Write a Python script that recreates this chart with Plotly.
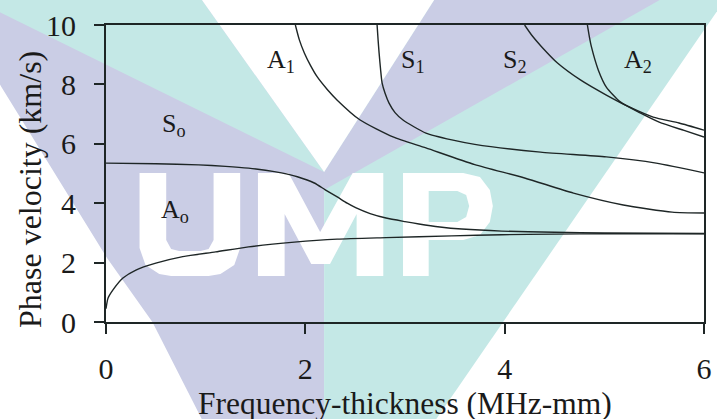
import plotly.graph_objects as go

# ---------------- data ----------------
a0_f = [0, 0.02, 0.07, 0.17, 0.3, 0.5, 0.77, 1.1, 1.43, 1.89, 2.32, 2.81, 3.47, 3.97, 4.5, 5.0, 5.5, 6.0]
a0_v = [0.45, 0.8, 1.08, 1.48, 1.75, 1.98, 2.2, 2.36, 2.53, 2.69, 2.79, 2.84, 2.9, 2.94, 2.96, 2.97, 2.97, 2.97]

s0_f = [0, 0.5, 0.93, 1.2, 1.43, 1.6, 1.76, 1.92, 2.09, 2.2, 2.32, 2.42, 2.51, 2.65, 2.81, 3.0, 3.14,
        3.35, 3.57, 3.97, 4.5, 5.0, 6.0]
s0_v = [5.35, 5.33, 5.29, 5.24, 5.18, 5.11, 5.02, 4.89, 4.68, 4.45, 4.21, 4.0, 3.84, 3.65, 3.5, 3.38, 3.3,
        3.2, 3.13, 3.06, 3.02, 3.0, 2.98]

a1_f = [1.90, 1.94, 1.99, 2.05, 2.12, 2.22, 2.32, 2.55, 2.88, 3.21, 3.7, 4.2, 4.69, 5.19, 5.68, 6.0]
a1_v = [10.0, 9.5, 9.06, 8.65, 8.25, 7.83, 7.47, 6.8, 6.23, 5.86, 5.3, 4.85, 4.34, 3.94, 3.7, 3.67]

s1_f = [2.72, 2.73, 2.74, 2.755, 2.77, 2.8, 2.84, 2.9, 2.98, 3.21, 3.47, 3.7, 4.36, 5.02, 5.52, 6.0]
s1_v = [10.0, 9.5, 9.06, 8.5, 8.05, 7.7, 7.37, 7.05, 6.8, 6.36, 6.13, 5.98, 5.72, 5.56, 5.35, 5.02]

s2_f = [4.2, 4.28, 4.37, 4.53, 4.76, 5.02, 5.25, 5.49, 5.75, 6.0]
s2_v = [10.0, 9.62, 9.27, 8.72, 8.15, 7.64, 7.24, 6.9, 6.7, 6.46]

a2_f = [4.83, 4.85, 4.87, 4.94, 5.02, 5.16, 5.36, 5.55, 5.8, 6.0]
a2_v = [10.0, 9.6, 9.27, 8.48, 7.91, 7.41, 7.04, 6.73, 6.45, 6.23]

labels = ["A<sub>1</sub>", "S<sub>1</sub>", "S<sub>2</sub>", "A<sub>2</sub>", "S<sub>o</sub>", "A<sub>o</sub>"]
label_f = [1.76, 3.08, 4.10, 5.34, 0.68, 0.69]
label_v = [8.8, 8.8, 8.8, 8.8, 6.62, 3.75]

x_ticks = [0, 2, 4, 6]
y_ticks = [0, 2, 4, 6, 8, 10]

# ---------------- figure ----------------
W, H = 717, 419
L, R, T, B = 106, 5, 25, 97
PW, PH = W - L - R, H - T - B

LINE = "#1e2626"
SERIF = "Liberation Serif, Times New Roman, serif"

fig = go.Figure()
for f, v in [(a0_f, a0_v), (s0_f, s0_v), (a1_f, a1_v), (s1_f, s1_v), (s2_f, s2_v), (a2_f, a2_v)]:
    fig.add_trace(go.Scatter(x=f, y=v, mode="lines", line=dict(color=LINE, width=1.4, shape="spline", smoothing=0.6),
                             showlegend=False, hoverinfo="skip"))

# ---------- faint watermark (decoration), drawn beneath the curves ----------
def px2paper(pts):
    return [((x - L) / PW, (T + PH - y) / PH) for x, y in pts]

def poly_path(pts):
    p = px2paper(pts)
    return "M" + " L".join(f"{x:.4f},{y:.4f}" for x, y in p) + " Z"

LAV = "#cacde5"
TEAL = "#c4e8e6"
wm = [
    ([(-10, -10), (327, -10), (327, 430), (212, 430), (203, 419), (153, 322), (107, 258), (0, 87), (-10, 70)], LAV),
    ([(327, -10), (740, -10), (440, 420), (433, 430), (327, 430)], TEAL),
    ([(-10, -10), (196, -10), (327, 172), (0, 13), (-10, 8)], TEAL),
    ([(445, -10), (685, -10), (327, 190), (327, 172)], LAV),
    ([(196, -10), (445, -10), (327, 172)], "#ffffff"),
]
shapes = []
for pts, col in wm:
    shapes.append(dict(type="path", path=poly_path(pts), xref="paper", yref="paper",
                       fillcolor=col, line=dict(width=0), layer="below"))

# letters U M P in white
U = [(140, 173), (167, 173), (167, 240), (172, 249), (180, 251), (202, 251), (210, 249), (215, 240), (215, 173),
     (242, 173), (242, 248), (236, 265), (222, 274), (210, 276), (172, 276), (160, 274), (146, 265), (140, 248)]
M = [(260, 173), (291, 173), (323, 232), (356, 173), (387, 173), (387, 276), (360, 276), (360, 214),
     (333, 264), (314, 264), (287, 214), (287, 276), (260, 276)]
P_outer = [(407, 173), (468, 173), (485, 177), (495, 190), (498, 206), (495, 222), (485, 235), (468, 240),
           (433, 240), (433, 276), (407, 276)]
P_inner = [(433, 191), (462, 191), (471, 195), (474, 206), (471, 217), (462, 222), (433, 222)]
for pts in (U, M):
    shapes.append(dict(type="path", path=poly_path(pts), xref="paper", yref="paper",
                       fillcolor="#ffffff", line=dict(width=0), layer="below"))
shapes.append(dict(type="path", path=poly_path(P_outer) + " " + poly_path(P_inner), xref="paper", yref="paper",
                   fillcolor="#ffffff", line=dict(width=0), layer="below", fillrule="evenodd"))

annotations = []
for t, f, v in zip(labels, label_f, label_v):
    annotations.append(dict(x=f, y=v, xref="x", yref="y", text=t, showarrow=False,
                            font=dict(family=SERIF, size=26, color="#1a1a1a"), xanchor="center", yanchor="middle"))

annotations.append(dict(text="Frequency-thickness (MHz-mm)", xref="paper", yref="paper",
                        x=(408.5 - L) / PW, y=(T + PH - 403) / PH, showarrow=False,
                        font=dict(family=SERIF, size=31.5, color="#1a1a1a"), xanchor="center", yanchor="middle"))
annotations.append(dict(text="Phase velocity (km/s)", xref="paper", yref="paper",
                        x=(29 - L) / PW, y=(T + PH - 190) / PH, showarrow=False, textangle=-90,
                        font=dict(family=SERIF, size=32, color="#1a1a1a"), xanchor="center", yanchor="middle"))

fig.update_layout(
    width=W, height=H,
    margin=dict(l=L, r=R, t=T, b=B, pad=0),
    paper_bgcolor="#ffffff", plot_bgcolor="rgba(0,0,0,0)",
    shapes=shapes, annotations=annotations,
    showlegend=False,
)
fig.update_xaxes(range=[0, 6], tickvals=x_ticks, ticktext=[str(t) for t in x_ticks],
                 showgrid=False, zeroline=False, showline=True, mirror=True, linecolor=LINE, linewidth=2.2,
                 ticks="outside", ticklen=10, tickwidth=1.5, tickcolor=LINE, ticklabelstandoff=9,
                 ticklabeloverflow="allow",
                 tickfont=dict(family=SERIF, size=30, color="#1a1a1a"))
fig.update_yaxes(range=[0, 10], tickvals=y_ticks, ticktext=[str(t) for t in y_ticks],
                 showgrid=False, zeroline=False, showline=True, mirror=True, linecolor=LINE, linewidth=2.2,
                 ticks="outside", ticklen=10, tickwidth=1.5, tickcolor=LINE, ticklabelstandoff=12,
                 ticklabeloverflow="allow",
                 tickfont=dict(family=SERIF, size=30, color="#1a1a1a"))

fig.write_html("out.html")
